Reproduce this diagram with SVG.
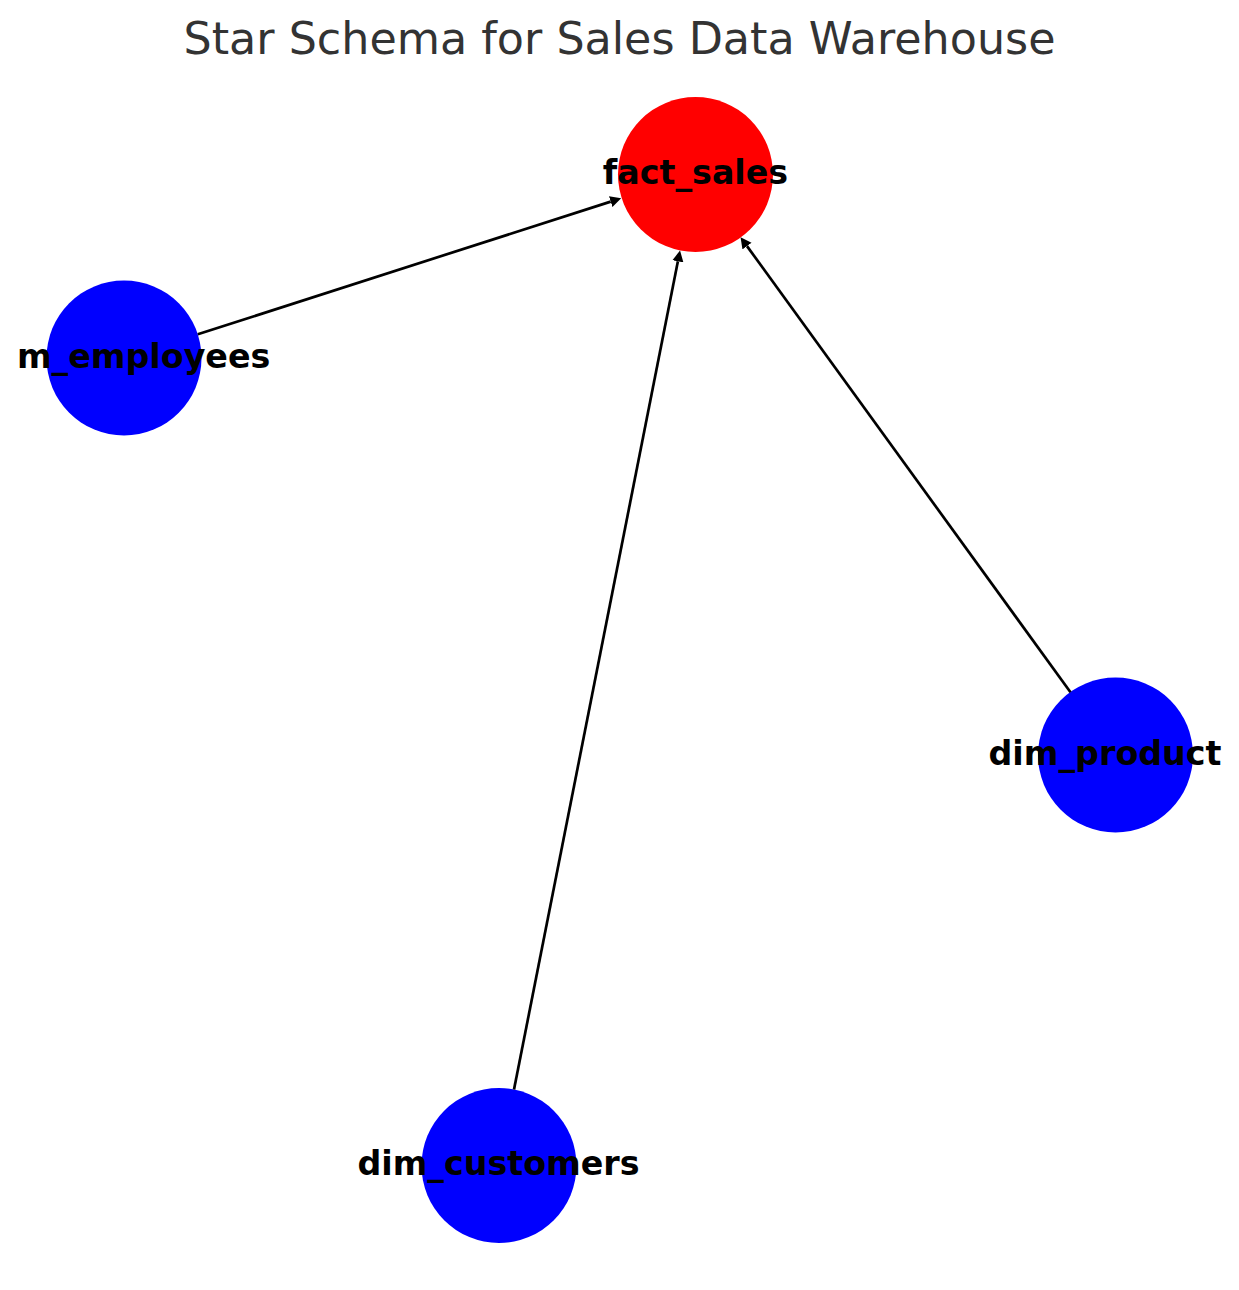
<svg xmlns="http://www.w3.org/2000/svg" width="1239" height="1290" viewBox="0 0 1239 1290">
<style>
.title{font-family:"DejaVu Sans",sans-serif;font-size:44.4px;fill:#333333;text-anchor:middle}
.lbl{font-family:"DejaVu Sans",sans-serif;font-size:33.3px;font-weight:bold;fill:#000;text-anchor:middle}
.fact{fill:#ff0000}
.dim{fill:#0000ff}
.edge{stroke:#000;stroke-width:2.7;fill:none;marker-end:url(#arr)}
</style>
<defs>
<marker id="arr" markerUnits="userSpaceOnUse" markerWidth="12" markerHeight="12" viewBox="0 -6 12 12" refX="0" refY="0" orient="auto">
<path d="M0,-5.6 L11,0 L0,5.6 Z" fill="#000"/>
</marker>
<clipPath id="ax"><rect x="18.5" y="0" width="1204" height="1290"/></clipPath>
</defs>
<rect width="1239" height="1290" fill="#fff"/>
<text class="title" x="619.5" y="54">Star Schema for Sales Data Warehouse</text>
<g id="nodes-shapes">
<g id="fact_sales"><circle class="fact" cx="695.5" cy="174.5" r="77.5"/></g>
<g id="dim_employees"><circle class="dim" cx="124" cy="358" r="77.5"/></g>
<g id="dim_product"><circle class="dim" cx="1115.5" cy="755" r="77.5"/></g>
<g id="dim_customers"><circle class="dim" cx="499" cy="1165.5" r="77.5"/></g>
</g>
<g id="connectors">
<path class="edge" d="M197.8,334.3 L610.7,201.6"/>
<path class="edge" d="M514,1089.5 L677.9,261.3"/>
<path class="edge" d="M1070.5,692.3 L747,246.1"/>
</g>
<g id="labels" clip-path="url(#ax)">
<text class="lbl" x="695.5" y="183.5">fact_sales</text>
<text class="lbl" x="126" y="367.5">dim_employees</text>
<text class="lbl" x="1105" y="764.5">dim_product</text>
<text class="lbl" x="498.5" y="1175">dim_customers</text>
</g>
</svg>
